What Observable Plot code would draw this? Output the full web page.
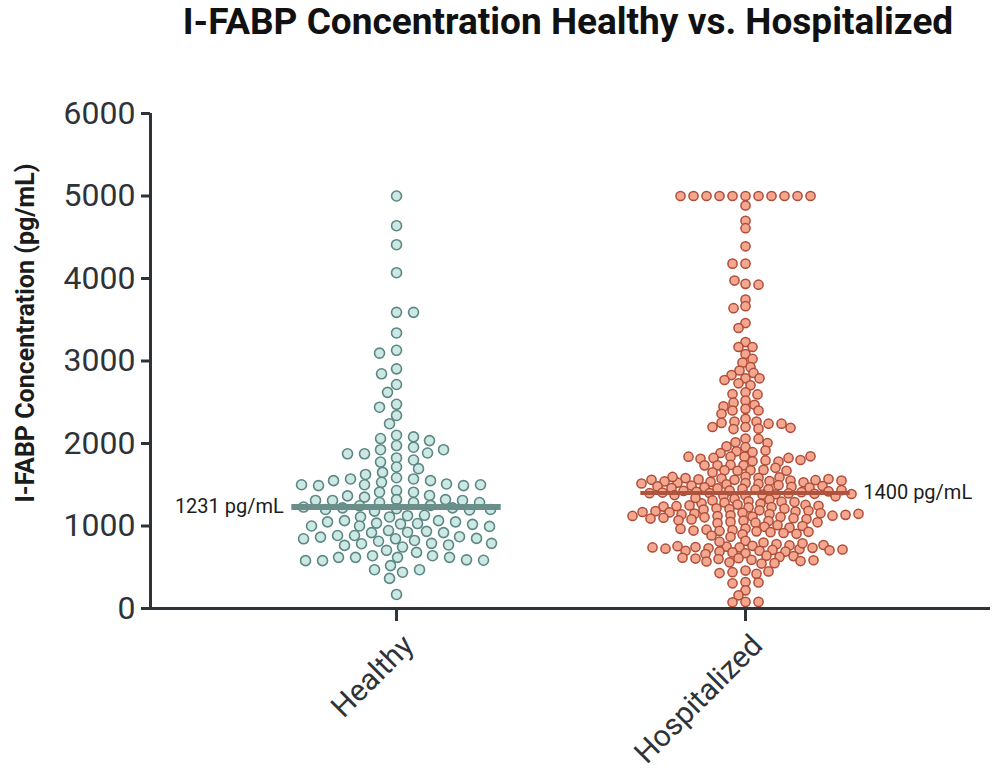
<!DOCTYPE html>
<html>
<head>
<meta charset="utf-8">
<script src="https://cdn.jsdelivr.net/npm/d3@7"></script>
<script src="https://cdn.jsdelivr.net/npm/@observablehq/plot@0.6"></script>
<style>
  body { margin: 0; background: #fff; font-family: Roboto, sans-serif; }
  #title { height: 44px; line-height: 44px; font-size: 37px; font-weight: 700; color: #111; text-align: center; padding-left: 140px; white-space: nowrap; }
</style>
</head>
<body>
<div id="title"></div>
<div id="chart"></div>
<script>
const title = "I-FABP Concentration Healthy vs. Hospitalized";
const yLabel = "I-FABP Concentration (pg/mL)";
const groups = ["Healthy", "Hospitalized"];
const yTicks = [0, 1000, 2000, 3000, 4000, 5000, 6000];
const medians = [1231, 1400];

const healthyValues = [
  5000, 4640, 4410, 4070, 3590, 3590, 3340, 3130, 3095, 2905, 2845, 2715, 2620, 2475, 2440, 2340, 2240,
  2100, 2060, 2080, 1975, 2035, 1955, 1925, 1885, 1875, 1925, 1875, 1825, 1800, 1775, 1715, 1695, 1650,
  1625, 1585, 1570, 1550, 1570, 1530, 1510, 1550, 1500, 1490, 1490, 1500, 1500, 1430, 1410, 1410, 1350,
  1370, 1365, 1320, 1320, 1310, 1310, 1310, 1285, 1285, 1285, 1250, 1245, 1230, 1220, 1220, 1210, 1200,
  1200, 1195, 1180, 1125, 1130, 1110, 1110, 1065, 1065, 1050, 1050, 1035, 1025, 1030, 1020, 1000, 1000,
  995, 945, 935, 925, 920, 920, 885, 885, 870, 865, 850, 845, 845, 825, 815, 790, 790, 785, 770, 765, 745,
  705, 680, 640, 640, 620, 620, 620, 620, 590, 580, 585, 580, 520, 440, 470, 470, 365, 170
];

const hospitalizedValues = [
  5000, 5000, 5000, 5000, 5000, 5000, 5000, 5000, 5000, 5000, 5000,
  4885, 4700, 4610, 4390, 4180, 4180, 3935, 3975, 3925, 3745, 3665, 3640, 3460, 3400, 3230, 3170, 3085,
  3170, 3025, 2980, 2925, 2885, 2855, 2830, 2790, 2790,
  2770, 2730, 2705, 2620, 2520, 2600, 2595, 2495, 2470, 2450, 2420, 2400, 2400, 2360, 2300, 2265, 2265,
  2250, 2240, 2240, 2200, 2200, 2180, 2175, 2190, 2060, 2055, 2015,
  2005, 1955, 1895, 1840, 1785, 1735, 1675, 1965, 1905, 1840, 1795, 1740, 1670,
  1915, 1885, 1825, 1780, 1825, 1815, 1800, 1840, 1845, 1735, 1735, 1680, 1705, 1675, 1650, 1670,
  1600, 1585, 1560, 1545, 1520, 1575, 1535, 1590, 1550, 1565, 1510, 1530, 1580, 1555, 1525, 1595, 1570,
  1540, 1505, 1560, 1550, 1515,
  1495, 1470, 1450, 1490, 1475, 1440, 1465, 1485, 1455, 1480, 1445, 1460,
  1430, 1385, 1415, 1400, 1370, 1425, 1395, 1380, 1410, 1365, 1420, 1390, 1375, 1405, 1360, 1435, 1398, 1388,
  1330, 1300, 1320, 1285, 1270, 1310, 1295, 1275, 1340, 1290,
  1260, 1225, 1250, 1230, 1255, 1205, 1240, 1215, 1245, 1210, 1235, 1200,
  1190, 1160, 1130, 1175, 1145, 1115, 1150, 1185, 1120, 1140, 1165, 1110, 1155, 1125, 1180, 1135, 1105,
  1170, 1148, 1122,
  1095, 1065, 1040, 1085, 1050, 1100, 1060, 1035, 1080, 1070, 1045, 1090,
  1010, 970, 950, 990, 940, 955, 980, 945, 1000, 935, 965, 925, 900, 915, 885, 905, 870, 930,
  820, 760, 740, 800, 700, 750, 690, 780, 730, 670, 765, 745, 710, 810, 720, 700, 680, 790, 735, 690, 755,
  770, 725, 705, 660, 740, 715,
  640, 610, 590, 560, 625, 545, 600, 570, 635, 550, 605, 575, 615, 585,
  460, 440, 420, 450, 430,
  320, 315, 305,
  220, 160,
  80, 75, 80
];

// layout
const W = 996, H = 731, mL = 150, mR = 6, mT = 69, mB = 167;
const xDomain = [-0.705, 1.702];
const yDomain = [0, 6000];
const pxPerX = (W - mL - mR) / (xDomain[1] - xDomain[0]);
const pxPerY = (H - mT - mB) / (yDomain[1] - yDomain[0]);

// greedy centered swarm with an elliptical spacing (a: horizontal, b: vertical), pixel space
function swarm(values, a, b) {
  const placed = [];
  return values.map((v, i) => {
    const py = v * pxPerY;
    let best = 0;
    for (let k = 0; k < 800; k++) {
      const cands = k === 0 ? [0] : (i % 2 ? [k, -k] : [-k, k]);
      let found = null;
      for (const c of cands) {
        let ok = true;
        for (const p of placed) {
          const dx = (p.x - c) / a, dy = (p.y - py) / b;
          if (dx * dx + dy * dy < 1) { ok = false; break; }
        }
        if (ok) { found = c; break; }
      }
      if (found !== null) { best = found; break; }
    }
    placed.push({x: best, y: py});
    return best;
  });
}

function rows(values, gi, a, b) {
  const offs = swarm(values, a, b);
  return values.map((v, i) => ({group: groups[gi], value: v, x: gi + offs[i] / pxPerX}));
}

const healthyRows = rows(healthyValues, 0, 17, 9);
const hospRows = rows(hospitalizedValues, 1, 12.5, 5.9);

const axisColor = "#2e3338";
const halfLine = 0.3;

document.getElementById("title").textContent = title;

const chart = Plot.plot({
  width: W,
  height: H,
  marginLeft: mL,
  marginRight: mR,
  marginTop: mT,
  marginBottom: mB,
  style: {fontFamily: "Roboto, sans-serif", background: "#fff", color: "#1c1c1c"},
  x: {domain: xDomain, axis: null},
  y: {domain: yDomain, axis: null},
  marks: [
    Plot.dot(healthyRows, {x: "x", y: "value", r: 5, fill: "#cbe8e4", stroke: "#5c8783", strokeWidth: 1.6}),
    Plot.dot(hospRows, {x: "x", y: "value", r: 4.6, fill: "#f4a68f", stroke: "#ae4d38", strokeWidth: 1.5}),
    Plot.ruleY([medians[0]], {x1: 0 - halfLine, x2: 0 + halfLine, y: d => d, stroke: "#6a8f8b", strokeWidth: 6}),
    Plot.ruleY([medians[1]], {x1: 1 - halfLine, x2: 1 + halfLine, y: d => d, stroke: "#b0533e", strokeWidth: 4}),
    Plot.text([medians[0]], {x: 0 - halfLine, y: d => d, text: d => `${d} pg/mL`, textAnchor: "end", dx: -8, fontSize: 20, fill: "#1c1c1c"}),
    Plot.text([medians[1]], {x: 1 + halfLine, y: d => d, text: d => `${d} pg/mL`, textAnchor: "start", dx: 13, fontSize: 20, fill: "#1c1c1c"}),
    Plot.ruleY([yDomain[0]], {stroke: axisColor, strokeWidth: 3}),
    Plot.ruleX([xDomain[0]], {stroke: axisColor, strokeWidth: 3}),
    Plot.axisY({ticks: yTicks, tickSize: 9, tickPadding: 6, fontSize: 32, strokeWidth: 3, color: axisColor, label: null, tickFormat: d => String(d)}),
    Plot.axisX({ticks: [0, 1], tickFormat: () => "", tickSize: 13, strokeWidth: 3, color: axisColor, label: null}),
    Plot.axisX({ticks: [0, 1], tickFormat: i => groups[i], tickRotate: -45, tickSize: 0, tickPadding: 17, fontSize: 30, color: axisColor, label: null, dx: 12, dy: 15})
  ].concat([
    Plot.text([yLabel], {frameAnchor: "left", textAnchor: "middle", rotate: -90, dx: -125, dy: -28, fontSize: 25, fontWeight: "bold", fill: "#1c1c1c"})
  ])
});
document.getElementById("chart").appendChild(chart);
</script>
</body>
</html>
